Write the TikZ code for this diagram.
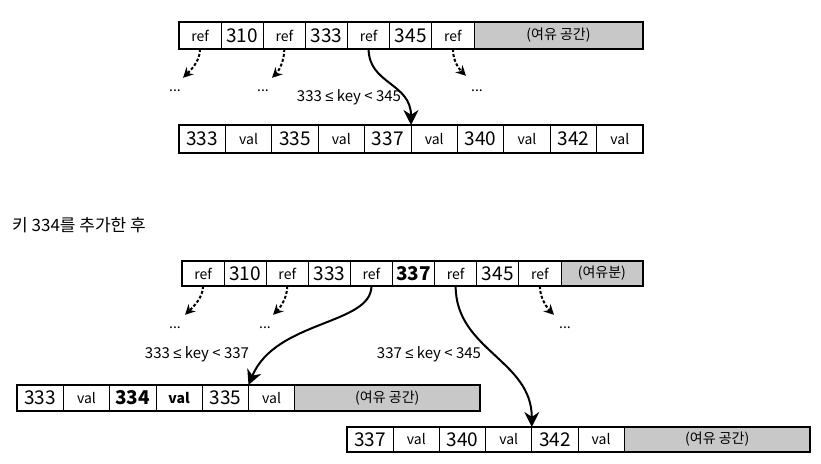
\documentclass[tikz,border=0pt]{standalone}
\usepackage{fontspec}
\setmainfont{Noto Sans CJK KR}
\newfontfamily\symf{Liberation Sans}
\usetikzlibrary{arrows.meta,positioning,calc}
\definecolor{spare}{HTML}{C8C8C8}
\newcommand{\lte}{{\symf ≤}}
\tikzset{cell/.style={draw,line width=0.7pt,inner sep=0pt,outer sep=0pt},keyf/.style={font=\fontsize{19}{19}\selectfont},wordf/.style={font=\fontsize{14}{14}\selectfont},boldf/.style={font=\fontsize{19}{19}\selectfont\bfseries},boldw/.style={font=\fontsize{14}{14}\selectfont\bfseries},free/.style={cell,fill=spare,font=\fontsize{14}{14}\selectfont},frame/.style={line width=1.6pt},dasharr/.style={-{Stealth[length=10pt,width=10pt]},line width=2pt,dash pattern=on 3pt off 2pt},arr/.style={-{Stealth[length=15pt,width=15pt]},line width=2pt},lbl/.style={font=\fontsize{15}{15}\selectfont,inner sep=0pt},dots/.style={font=\fontsize{14}{14}\selectfont,inner sep=0pt}}

\begin{document}
\begin{tikzpicture}[x=1pt,y=-1pt]
\useasboundingbox (0,0) rectangle (821,463);
% before: root page and leaf page
\foreach \t/\s [count=\i] in {ref/wordf,310/keyf,ref/wordf,333/keyf,ref/wordf,345/keyf,ref/wordf}
  \node[cell,\s,minimum width=42.14pt,minimum height=27pt] (rt\i) at ({179+(\i-0.5)*42.14},35.5) {\t};
\node[free,minimum width=169pt,minimum height=27pt,right=0pt of rt7] (rt8) {(여유 공간)};
\draw[frame] (rt1.north west) rectangle (rt8.south east);
\foreach \t/\s [count=\i] in {333/keyf,val/wordf,335/keyf,val/wordf,337/keyf,val/wordf,340/keyf,val/wordf,342/keyf,val/wordf}
  \node[cell,\s,minimum width=46.4pt,minimum height=28pt] (lf\i) at ({179+(\i-0.5)*46.4},139) {\t};
\draw[frame] (lf1.north west) rectangle (lf10.south east);
\node[dots] (d1) at (175,91) {...};
\node[dots] (d2) at (263,91) {...};
\node[dots] (d3) at (477,91) {...};
\draw[dasharr] (rt1.south) .. controls +(0,13) and +(6,-6) .. ([xshift=8pt,yshift=12pt]d1.north);
\draw[dasharr] (rt3.south) .. controls +(0,13) and +(6,-6) .. ([xshift=9pt,yshift=12pt]d2.north);
\draw[dasharr] (rt7.south) .. controls +(0,13) and +(-6,-6) .. ([xshift=-11pt,yshift=14pt]d3.north);
\draw[arr] (rt5.south) .. controls +(0,35) and +(0,-42) .. (lf5.north east);
\node[lbl] (k1) at (349,97) {333 \lte\ key < 345};
% after inserting key 334
\node[font=\fontsize{17}{17}\selectfont,anchor=west,inner sep=0pt] (cap) at (12,225) {키 334를 추가한 후};
\foreach \t/\s [count=\i] in {ref/wordf,310/keyf,ref/wordf,333/keyf,ref/wordf,337/boldf,ref/wordf,345/keyf,ref/wordf}
  \node[cell,\s,minimum width=42.1pt,minimum height=25pt] (rb\i) at ({182+(\i-0.5)*42.1},273.5) {\t};
\node[free,minimum width=82pt,minimum height=25pt,right=0pt of rb9] (rb10) {(여유분)};
\draw[frame] (rb1.north west) rectangle (rb10.south east);
\foreach \t/\s [count=\i] in {333/keyf,val/wordf,334/boldf,val/boldw,335/keyf,val/wordf}
  \node[cell,\s,minimum width=46.3pt,minimum height=26pt] (la\i) at ({17+(\i-0.5)*46.3},398) {\t};
\node[free,minimum width=185pt,minimum height=26pt,right=0pt of la6] (la7) {(여유 공간)};
\draw[frame] (la1.north west) rectangle (la7.south east);
\foreach \t/\s [count=\i] in {337/keyf,val/wordf,340/keyf,val/wordf,342/keyf,val/wordf}
  \node[cell,\s,minimum width=46.2pt,minimum height=25pt] (lb\i) at ({347+(\i-0.5)*46.2},439.5) {\t};
\node[free,minimum width=186pt,minimum height=25pt,right=0pt of lb6] (lb7) {(여유 공간)};
\draw[frame] (lb1.north west) rectangle (lb7.south east);
\node[dots] (d4) at (175,328) {...};
\node[dots] (d5) at (265,328) {...};
\node[dots] (d6) at (565,328) {...};
\draw[dasharr] (rb1.south) .. controls +(0,13) and +(6,-6) .. ([xshift=10pt,yshift=12pt]d4.north);
\draw[dasharr] (rb3.south) .. controls +(0,13) and +(6,-6) .. ([xshift=8pt,yshift=12pt]d5.north);
\draw[dasharr] (rb9.south) .. controls +(0,13) and +(-6,-6) .. ([xshift=-11pt,yshift=12pt]d6.north);
\draw[arr] (rb5.south) .. controls +(0,39) and +(27,-65) .. (la5.north east);
\draw[arr] (rb7.south) .. controls +(0,64) and +(0,-67) .. (lb4.north east);
\node[lbl] (k2) at (197,354) {333 \lte\ key < 337};
\node[lbl] (k3) at (429,354) {337 \lte\ key < 345};
\end{tikzpicture}
\end{document}
